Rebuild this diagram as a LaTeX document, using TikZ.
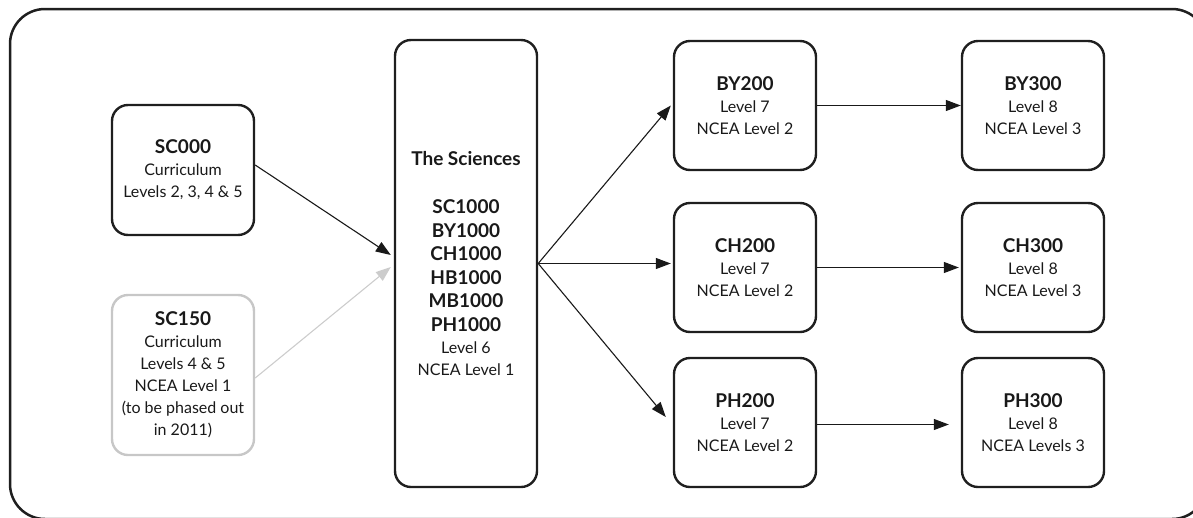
\documentclass[tikz,border=0pt]{standalone}
\usepackage{fontspec}
\setmainfont{Lato}
\usetikzlibrary{arrows.meta}
\newcommand\cttl[1]{{\fontsize{19}{22}\selectfont\bfseries #1}}
\begin{document}
\begin{tikzpicture}[x=1pt,y=-1pt,
  box/.style={draw=black!88, line width=2.4pt, rounded corners=16pt, align=center,
    inner sep=0pt, minimum width=142pt, text=black!90,
    font=\fontsize{16}{22}\selectfont},
  fadedbox/.style={box, draw=black!22},
  arr/.style={-{Triangle[length=15pt,width=11pt]}, line width=1.1pt, draw=black!90},
  fadedarr/.style={arr, draw=black!20}
]
\useasboundingbox (0,0) rectangle (1193,517);
\clip (0,0) rectangle (1193,517);
\draw[line width=2.5pt, draw=black!88, rounded corners=35pt] (10,9) rectangle (1207,519);

\node[box, minimum height=130pt] (sc000) at (183,170) {\cttl{SC000}\\Curriculum\\Levels 2, 3, 4 \& 5};
\node[fadedbox, minimum height=160pt] (sc150) at (183,375) {\cttl{SC150}\\Curriculum\\Levels 4 \& 5\\NCEA Level 1\\(to be phased out\\in 2011)};
\node[box, minimum height=447pt] (sci) at (466,263.5) {\cttl{The Sciences}\\[26pt]\cttl{SC1000}\\[1.5pt]\cttl{BY1000}\\[1.5pt]\cttl{CH1000}\\[1.5pt]\cttl{HB1000}\\[1.5pt]\cttl{MB1000}\\[1.5pt]\cttl{PH1000}\\Level 6\\NCEA Level 1};

\node[box, minimum height=129pt] (by200) at (745,105.5) {\cttl{BY200}\\Level 7\\NCEA Level 2};
\node[box, minimum height=129pt] (ch200) at (745,267.5) {\cttl{CH200}\\Level 7\\NCEA Level 2};
\node[box, minimum height=129pt] (ph200) at (745,422.5) {\cttl{PH200}\\Level 7\\NCEA Level 2};
\node[box, minimum height=129pt] (by300) at (1033,105.5) {\cttl{BY300}\\Level 8\\NCEA Level 3};
\node[box, minimum height=129pt] (ch300) at (1033,267.5) {\cttl{CH300}\\Level 8\\NCEA Level 3};
\node[box, minimum height=129pt] (ph300) at (1033,422.5) {\cttl{PH300}\\Level 8\\NCEA Levels 3};

\draw[arr] ([yshift=5pt]sc000.east) -- ([xshift=-3pt,yshift=8.5pt]sci.west);
\draw[fadedarr] ([yshift=-3pt]sc150.east) -- ([xshift=-3pt,yshift=-3.5pt]sci.west);

\draw[arr] (sci.east) -- ([xshift=-2pt]by200.west);
\draw[arr] (sci.east) -- ([xshift=-2pt]ch200.west |- sci.east);
\draw[arr] (sci.east) -- ([xshift=-7pt,yshift=5.5pt]ph200.west);

\draw[arr] (by200.east) -- (by300.west);
\draw[arr] (ch200.east) -- ([xshift=-2pt]ch300.west);
\draw[arr] ([yshift=-2pt]ph200.east) -- ([xshift=-12pt,yshift=-2pt]ph300.west);
\end{tikzpicture}
\end{document}
